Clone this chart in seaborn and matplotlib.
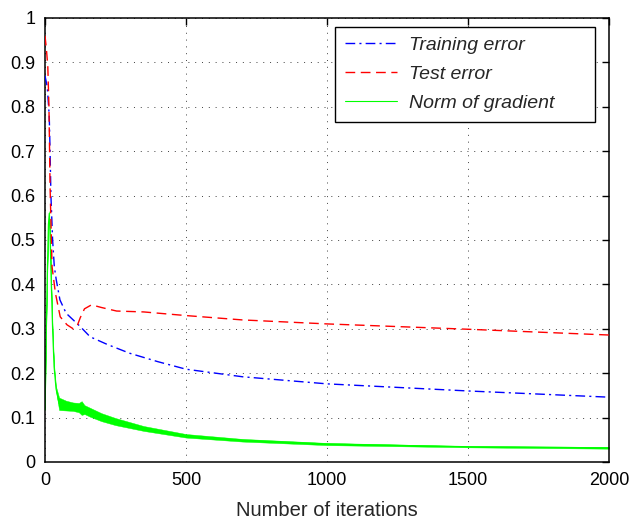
import numpy as np
import matplotlib
matplotlib.use("Agg")
import matplotlib.pyplot as plt
import seaborn as sns

sns.set_style("white")
plt.rcParams['font.family'] = ['Liberation Sans', 'DejaVu Sans']

# values
train_iter = [0, 8, 15, 18, 21, 27, 33, 40, 53, 75, 100, 125, 160, 220, 300, 400, 500, 700, 1000, 1500, 2000]
train_err = [0.87, 0.845, 0.78, 0.70, 0.60, 0.50, 0.44, 0.41, 0.365, 0.335, 0.32, 0.305, 0.282, 0.265,
             0.245, 0.226, 0.209, 0.192, 0.176, 0.160, 0.146]

test_iter = [0, 5, 10, 14, 18, 25, 37, 54, 78, 100, 115, 125, 140, 165, 200, 254, 350, 496, 700, 1000, 1500, 2000]
test_err = [0.96, 0.93, 0.89, 0.80, 0.62, 0.44, 0.38, 0.327, 0.309, 0.300, 0.308, 0.325, 0.345, 0.354,
            0.348, 0.340, 0.338, 0.330, 0.320, 0.311, 0.299, 0.286]

# gradient norm is a noisy band: lower / upper edge
grad_iter = [0, 3, 8, 12, 15, 18, 22, 27, 32, 39, 50, 75, 100, 120, 130, 140, 160, 200, 250, 350,
             500, 700, 1000, 1500, 2000]
grad_lo = [0.117, 0.25, 0.42, 0.53, 0.555, 0.50, 0.40, 0.29, 0.21, 0.16, 0.117, 0.116, 0.115, 0.112,
           0.106, 0.108, 0.102, 0.092, 0.083, 0.070, 0.055, 0.046, 0.038, 0.033, 0.030]
grad_hi = [0.12, 0.26, 0.43, 0.54, 0.565, 0.51, 0.41, 0.30, 0.22, 0.17, 0.145, 0.138, 0.134, 0.133,
           0.137, 0.128, 0.122, 0.110, 0.099, 0.081, 0.063, 0.052, 0.043, 0.036, 0.034]

x_ticks = [0, 500, 1000, 1500, 2000]
y_ticks = [0, 0.1, 0.2, 0.3, 0.4, 0.5, 0.6, 0.7, 0.8, 0.9, 1]
y_labels = ["0", "0.1", "0.2", "0.3", "0.4", "0.5", "0.6", "0.7", "0.8", "0.9", "1"]

fig = plt.figure(figsize=(6.3, 5.19), dpi=100)
ax = fig.add_axes([45 / 630, 57 / 519, 564 / 630, 444 / 519])

grad_mid = (np.array(grad_lo) + np.array(grad_hi)) / 2
ax.fill_between(grad_iter, grad_lo, grad_hi, color=(0, 1, 0), lw=0.3, zorder=2)

sns.lineplot(x=train_iter, y=train_err, ax=ax, color=(0, 0, 1), lw=1.0,
             linestyle=(0, (7, 3, 1.5, 3)), label="Training error", zorder=3)
sns.lineplot(x=test_iter, y=test_err, ax=ax, color=(1, 0, 0), lw=1.0,
             linestyle=(0, (7, 4)), label="Test error", zorder=3)
sns.lineplot(x=grad_iter, y=grad_mid, ax=ax, color=(0, 1, 0), lw=0.8,
             label="Norm of gradient", zorder=2)

ax.set_xlim(0, 2000)
ax.set_ylim(0, 1)
ax.set_xticks(x_ticks)
ax.set_xticklabels([str(t) for t in x_ticks])
ax.set_yticks(y_ticks)
ax.set_yticklabels(y_labels)
ax.grid(True, color="0.25", linestyle=(0, (1, 6)), lw=0.7)
ax.tick_params(direction="in", length=5, width=1, top=True, right=True,
               labelsize=13, pad=7, colors="black")
for s in ax.spines.values():
    s.set_color("black")
    s.set_linewidth(1.1)
ax.set_xlabel("Number of iterations", fontsize=14.5, labelpad=9)

leg = ax.legend(loc="upper left", bbox_to_anchor=(0.514, 0.773, 0.461, 0.207),
                mode="expand", borderaxespad=0,
                fancybox=False, framealpha=1, edgecolor="black",
                prop={"style": "italic", "size": 14},
                handlelength=2.7, handletextpad=0.6, labelspacing=0.58,
                borderpad=0.5)
leg.get_frame().set_linewidth(1.0)

fig.savefig("out.png", dpi=100)
